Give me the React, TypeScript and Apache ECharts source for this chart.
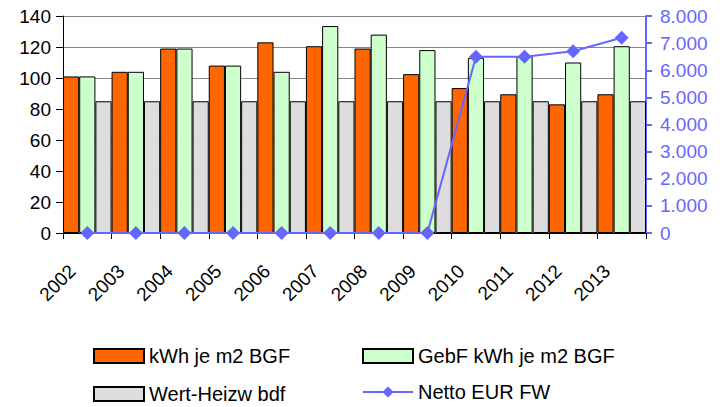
import React, { useEffect, useRef } from "react";
import * as echarts from "echarts";

const years = ["2002", "2003", "2004", "2005", "2006", "2007", "2008", "2009", "2010", "2011", "2012", "2013"];
const kwh = [101, 104, 119, 108, 123, 120.5, 119, 102.5, 93.5, 89.5, 83, 89.5];
const gebf = [101, 104, 119, 108, 104, 133.5, 128, 118, 113, 114, 110, 120.5];
const wert = [85, 85, 85, 85, 85, 85, 85, 85, 85, 85, 85, 85];
const netto = [0, 0, 0, 0, 0, 0, 0, 0, 6500, 6500, 6700, 7200];

const FONT = "Liberation Sans, Arial, sans-serif";
const BLUE = "#6666FF";

export default function App() {
  const ref = useRef<HTMLDivElement>(null);
  useEffect(() => {
    const chart = echarts.init(ref.current!, null, { renderer: "svg" });
    const legendBase = {
      orient: "horizontal",
      itemWidth: 50,
      itemHeight: 14,
      itemGap: 0,
      padding: 0,
      textStyle: { fontFamily: FONT, fontSize: 20, color: "#000" },
      selectedMode: false,
    };
    chart.setOption({
      animation: false,
      textStyle: { fontFamily: FONT },
      grid: { left: 63, right: 79, top: 16, bottom: 174, containLabel: false },
      legend: [
        { ...legendBase, data: [{ name: "kWh je m2 BGF", icon: "rect" }], left: 93, top: 346 },
        { ...legendBase, data: [{ name: "GebF kWh je m2 BGF", icon: "rect" }], left: 362, top: 346 },
        { ...legendBase, data: [{ name: "Wert-Heizw bdf", icon: "rect" }], left: 93, top: 384 },
        { ...legendBase, data: ["Netto EUR FW"], left: 362, top: 382 },
      ],
      xAxis: {
        type: "category",
        data: years,
        boundaryGap: true,
        axisLine: { lineStyle: { color: "#000", width: 1 } },
        axisTick: { show: true, length: 6, lineStyle: { color: "#000" } },
        axisLabel: {
          rotate: 45,
          fontSize: 19,
          color: "#000",
          fontFamily: FONT,
          margin: 20,
          padding: [0, 21, 0, 0],
        },
      },
      yAxis: [
        {
          type: "value",
          min: 0,
          max: 140,
          interval: 20,
          axisLine: { show: true, lineStyle: { color: "#000" } },
          axisTick: { show: true, length: 7, lineStyle: { color: "#000" } },
          axisLabel: { fontSize: 19, color: "#000", fontFamily: FONT, margin: 12 },
          splitLine: { lineStyle: { color: "#888", width: 1 } },
        },
        {
          type: "value",
          min: 0,
          max: 8000,
          interval: 1000,
          position: "right",
          axisLine: { show: true, lineStyle: { color: BLUE, width: 2 } },
          axisTick: { show: true, length: 6, lineStyle: { color: BLUE, width: 2 } },
          axisLabel: {
            fontSize: 19,
            color: BLUE,
            fontFamily: FONT,
            margin: 14,
            formatter: (v: number) => (v === 0 ? "0" : v.toString().replace(/\B(?=(\d{3})+(?!\d))/g, ".")),
          },
          splitLine: { show: false },
        },
      ],
      series: [
        {
          name: "kWh je m2 BGF",
          type: "bar",
          data: kwh,
          barGap: "0%",
          barCategoryGap: "0%",
          itemStyle: { color: "#FF6600", borderColor: "#000", borderWidth: 1 },
        },
        {
          name: "GebF kWh je m2 BGF",
          type: "bar",
          data: gebf,
          barGap: "0%",
          barCategoryGap: "0%",
          itemStyle: { color: "#CCFFCC", borderColor: "#000", borderWidth: 1 },
        },
        {
          name: "Wert-Heizw bdf",
          type: "bar",
          data: wert,
          barGap: "0%",
          barCategoryGap: "0%",
          itemStyle: { color: "#DDDDDD", borderColor: "#000", borderWidth: 1 },
        },
        {
          name: "Netto EUR FW",
          type: "line",
          yAxisIndex: 1,
          data: netto,
          symbol: "diamond",
          symbolSize: 14,
          z: 5,
          lineStyle: { color: BLUE, width: 2 },
          itemStyle: { color: BLUE },
        },
      ],
    });
    return () => chart.dispose();
  }, []);
  return <div ref={ref} style={{ width: 725, height: 407, position: "absolute", left: 0, top: 0 }} />;
}
